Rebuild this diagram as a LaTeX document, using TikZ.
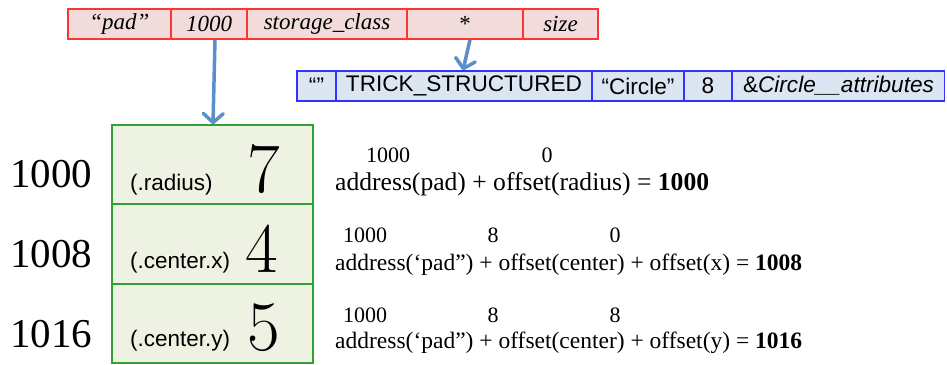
\documentclass[tikz,border=0pt]{standalone}
\usepackage{fontspec}
\usetikzlibrary{arrows.meta}
\newfontfamily\tms{Liberation Serif}
\newfontfamily\hlv{Liberation Sans}
\definecolor{redb}{HTML}{FF3333}
\definecolor{redf}{HTML}{F2DCDB}
\definecolor{blueb}{HTML}{3333FF}
\definecolor{bluef}{HTML}{DCE6F2}
\definecolor{greenb}{HTML}{33A033}
\definecolor{greenf}{HTML}{EEF2E3}
\definecolor{arrc}{HTML}{5B8FCB}
\begin{document}
\begin{tikzpicture}[x=1pt,y=-1pt,
  redc/.style={draw=redb, fill=redf, line width=1.5pt, minimum height=30pt, inner sep=0pt,
    font=\tms\itshape\fontsize{23}{27}\selectfont},
  bluec/.style={draw=blueb, fill=bluef, line width=1.5pt, minimum height=30pt, inner sep=0pt,
    font=\hlv\fontsize{22.6}{26}\selectfont},
  greenc/.style={draw=greenb, fill=greenf, line width=1.5pt, minimum width=201pt, inner sep=0pt},
  fieldlbl/.style={anchor=base west, inner sep=0pt, font=\hlv\fontsize{22.5}{26}\selectfont},
  bigval/.style={anchor=base, inner sep=0pt, font=\fontsize{71}{80}\selectfont},
  addr/.style={anchor=base west, inner sep=0pt, font=\tms\fontsize{41}{48}\selectfont},
  eqnA/.style={anchor=base west, inner sep=0pt, font=\tms\fontsize{25.6}{30}\selectfont},
  eqn/.style={anchor=base west, inner sep=0pt, font=\tms\fontsize{23.5}{28}\selectfont},
  sup/.style={anchor=base, inner sep=0pt, font=\tms\fontsize{22}{26}\selectfont},
  arr/.style={draw=arrc, line width=3.5pt, -{Straight Barb[length=9pt,width=20pt,round]}}
]
\useasboundingbox (0,0) rectangle (947,364);
% red row
\node[redc, minimum width=103pt] (r1) at (119.5,24) {“pad”};
\node[redc, minimum width=76pt] (r2) at (209,24) {1000};
\node[redc, minimum width=160pt] (r3) at (327,24) {storage\_class};
\node[redc, minimum width=116pt] (r4) at (465,24) {\upshape *};
\node[redc, minimum width=75pt] (r5) at (560.5,24) {size};
% blue row
\node[bluec, minimum width=39pt] (b1) at (316.5,86) {“”};
\node[bluec, minimum width=256pt] (b2) at (464,86) {TRICK\_STRUCTURED};
\node[bluec, minimum width=92pt] (b3) at (638,86) {“Circle”};
\node[bluec, minimum width=48pt] (b4) at (708,86) {8};
\node[bluec, minimum width=212pt] (b5) at (838.5,86) {\&\textit{Circle\_\_attributes}};
% green boxes
\node[greenc, minimum height=79pt] (g1) at (212.5,164.5) {};
\node[greenc, minimum height=80pt] (g2) at (212.5,244) {};
\node[greenc, minimum height=79pt] (g3) at (212.5,323.5) {};
\node[fieldlbl] (f1) at (130,190) {(.radius)};
\node[fieldlbl] (f2) at (130,268) {(.center.x)};
\node[fieldlbl] (f3) at (130,346) {(.center.y)};
\node[bigval] (v1) at (264,192) {7};
\node[bigval] (v2) at (262,272) {4};
\node[bigval] (v3) at (264,350) {5};
% addresses
\node[addr] (a1) at (10,187) {1000};
\node[addr] (a2) at (10,267) {1008};
\node[addr] (a3) at (10,347) {1016};
% arrows
\draw[arr] ([xshift=6pt]r2.south) -- ([xshift=0.5pt]g1.north);
\draw[arr] ([xshift=5pt]r4.south) -- ([xshift=-1pt]b2.north);
% equations
\node[sup] (s11) at (388,162) {1000};
\node[sup] (s12) at (547,162) {0};
\node[eqnA] (e1) at (335,190) {address(pad) + offset(radius) = \textbf{1000}};
\node[sup] (s21) at (365,242) {1000};
\node[sup] (s22) at (493,242) {8};
\node[sup] (s23) at (615,242) {0};
\node[eqn] (e2) at (335,270) {address(‘pad”) + offset(center) + offset(x) = \textbf{1008}};
\node[sup] (s31) at (365,322) {1000};
\node[sup] (s32) at (493,322) {8};
\node[sup] (s33) at (615,322) {8};
\node[eqn] (e3) at (335,348) {address(‘pad”) + offset(center) + offset(y) = \textbf{1016}};
\end{tikzpicture}
\end{document}
